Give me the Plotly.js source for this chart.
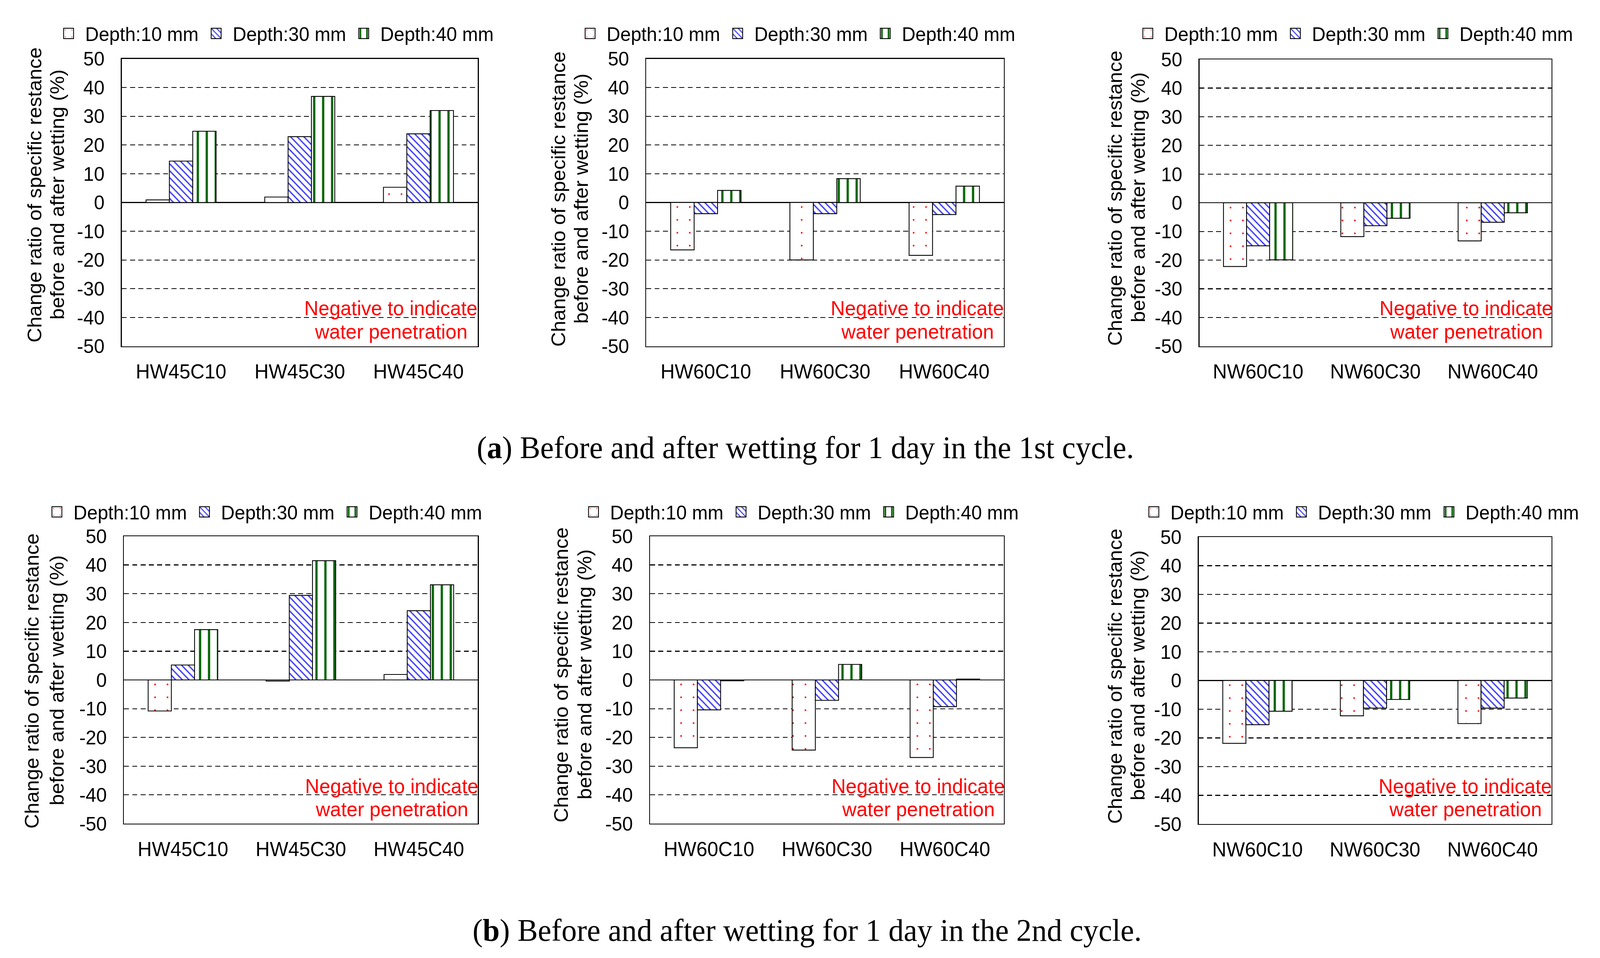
<!DOCTYPE html>
<html><head><meta charset="utf-8">
<script src="https://cdn.plot.ly/plotly-3.0.1.min.js"></script>
<style>
html,body{margin:0;padding:0;overflow:hidden;background:#fff;}
#chart{width:1930px;height:1115px;transform-origin:0 0;position:absolute;left:0;top:0;}
</style></head><body><div id="chart"></div>
<script>
// ---------------- DATA ----------------
const seriesNames = ['Depth:10 mm', 'Depth:30 mm', 'Depth:40 mm'];
const catsHW45 = ['HW45C10', 'HW45C30', 'HW45C40'];
const catsHW60 = ['HW60C10', 'HW60C30', 'HW60C40'];
const catsNW60 = ['NW60C10', 'NW60C30', 'NW60C40'];

// (a) 1st cycle
const a_HW45_d10 = [0.9, 1.9, 5.3];
const a_HW45_d30 = [14.4, 22.9, 23.9];
const a_HW45_d40 = [24.8, 36.9, 32.0];
const a_HW60_d10 = [-16.5, -20.0, -18.4];
const a_HW60_d30 = [-3.9, -3.9, -4.2];
const a_HW60_d40 = [4.2, 8.3, 5.7];
const a_NW60_d10 = [-22.2, -11.8, -13.3];
const a_NW60_d30 = [-15.0, -8.0, -6.8];
const a_NW60_d40 = [-19.9, -5.4, -3.5];

// (b) 2nd cycle
const b_HW45_d10 = [-10.8, -0.4, 1.9];
const b_HW45_d30 = [5.2, 29.4, 24.1];
const b_HW45_d40 = [17.5, 41.5, 33.1];
const b_HW60_d10 = [-23.6, -24.4, -27.0];
const b_HW60_d30 = [-10.4, -7.1, -9.3];
const b_HW60_d40 = [-0.3, 5.4, 0.3];
const b_NW60_d10 = [-21.9, -12.3, -15.0];
const b_NW60_d30 = [-15.4, -9.6, -9.6];
const b_NW60_d40 = [-10.7, -6.6, -6.1];

const yTickVals = [50, 40, 30, 20, 10, 0, -10, -20, -30, -40, -50];
const yTickText = ['50', '40', '30', '20', '10', '0', '-10', '-20', '-30', '-40', '-50'];

const yTitleLine1 = 'Change ratio of specific restance';
const yTitleLine2 = 'before and after wetting (%)';
const noteLine1 = 'Negative to indicate';
const noteLine2 = 'water penetration';
const captionA = '(<b>a</b>) Before and after wetting for 1 day in the 1st cycle.';
const captionB = '(<b>b</b>) Before and after wetting for 1 day in the 2nd cycle.';

// ---------------- LAYOUT HELPERS (reference pixel coords -> paper) ----------------
const W = 1930, H = 1115, RW = 4246, RH = 2453;
const fx = o => o / RW;
const fy = o => 1 - o / RH;

const SANS = 'Liberation Sans, Arial, sans-serif';
const SERIF = 'Liberation Serif, Times New Roman, serif';

const patterns = [
  {shape: '.', bgcolor: '#ffffff', fgcolor: '#ff0000', size: 15, solidity: 0.014, fillmode: 'replace'},
  {shape: '\\', bgcolor: '#ffffff', fgcolor: '#3c3cff', size: 5.7, solidity: 0.27, fillmode: 'replace'},
  {shape: '|', bgcolor: '#ffffff', fgcolor: '#006400', size: 10.8, solidity: 0.25, fillmode: 'replace'}
];

const panels = [
  {cats: catsHW45, vals: [a_HW45_d10, a_HW45_d30, a_HW45_d40], x: [323, 1268], y: [150.5, 886.5], leg: [176, 86], t1: [92, 499], t2: [152, 499]},
  {cats: catsHW60, vals: [a_HW60_d10, a_HW60_d30, a_HW60_d40], x: [1715, 2664], y: [150.5, 886.5], leg: [1560, 86], t1: [1483, 509], t2: [1543, 509]},
  {cats: catsNW60, vals: [a_NW60_d10, a_NW60_d30, a_NW60_d40], x: [3183, 4117], y: [152, 886.5], leg: [3040, 86], t1: [2960, 506], t2: [3021, 506]},
  {cats: catsHW45, vals: [b_HW45_d10, b_HW45_d30, b_HW45_d40], x: [329, 1268], y: [1373, 2109], leg: [145, 1311], t1: [86, 1743], t2: [152, 1743]},
  {cats: catsHW60, vals: [b_HW60_d10, b_HW60_d30, b_HW60_d40], x: [1725, 2664], y: [1373, 2109], leg: [1569, 1311], t1: [1490, 1727], t2: [1552, 1727]},
  {cats: catsNW60, vals: [b_NW60_d10, b_NW60_d30, b_NW60_d40], x: [3181, 4117], y: [1375, 2110], leg: [3056, 1311], t1: [2960, 1730], t2: [3021, 1730]}
];

const traces = [];
const layout = {
  width: W, height: H,
  margin: {l: 0, r: 0, t: 0, b: 0},
  paper_bgcolor: '#ffffff', plot_bgcolor: '#ffffff',
  barmode: 'group', bargap: 0.41, bargroupgap: 0,
  font: {family: SANS, color: '#000000', size: 23},
  annotations: []
};

panels.forEach((p, i) => {
  const n = i + 1;
  const sfx = n === 1 ? '' : String(n);
  const xa = 'x' + sfx, ya = 'y' + sfx;
  const legName = 'legend' + sfx;
  p.vals.forEach((v, s) => {
    traces.push({
      type: 'bar', x: p.cats, y: v, name: seriesNames[s],
      xaxis: xa, yaxis: ya, legend: legName, showlegend: true,
      marker: {color: '#ffffff', pattern: patterns[s], line: {color: '#000000', width: 1}},
      hoverinfo: 'skip'
    });
  });
  layout['xaxis' + sfx] = {
    domain: [fx(p.x[0]), fx(p.x[1])], anchor: ya,
    type: 'category', showgrid: false, zeroline: false,
    showline: true, mirror: true, linecolor: '#000000', linewidth: 1.1,
    ticks: '', tickfont: {family: SANS, size: 23.7, color: '#000'},
    ticklabelstandoff: 8, fixedrange: true, automargin: false
  };
  layout['yaxis' + sfx] = {
    domain: [fy(p.y[1]), fy(p.y[0])], anchor: xa,
    range: [-50, 50], tickvals: yTickVals, ticktext: yTickText,
    showgrid: true, gridcolor: '#000000', gridwidth: 1, griddash: '6px,4px',
    zeroline: true, zerolinecolor: '#000000', zerolinewidth: 1.1,
    showline: true, mirror: true, linecolor: '#000000', linewidth: 1.1,
    ticks: '', tickfont: {family: SANS, size: 23, color: '#000'},
    ticklabelstandoff: 15, fixedrange: true, automargin: false
  };
  layout[legName] = {
    orientation: 'h', x: fx(p.leg[0] - 38), y: fy(p.leg[1]), xanchor: 'left', yanchor: 'middle',
    xref: 'paper', yref: 'paper', bgcolor: 'rgba(0,0,0,0)', borderwidth: 0,
    font: {family: SANS, size: 22.8, color: '#000'},
    entrywidth: 133, entrywidthmode: 'pixels', traceorder: 'normal'
  };
  [[yTitleLine1, p.t1], [yTitleLine2, p.t2]].forEach(([txt, pos]) => {
    layout.annotations.push({
      xref: 'paper', yref: 'paper', x: fx(pos[0]), y: fy(pos[1]),
      xanchor: 'center', yanchor: 'middle', textangle: -90, showarrow: false,
      text: txt, font: {family: SANS, size: 23.6, color: '#000'}
    });
  });
  layout.annotations.push({
    xref: xa + ' domain', yref: ya, x: 0.757, y: -36.75, xanchor: 'center', yanchor: 'middle',
    showarrow: false, text: noteLine1, font: {family: SANS, size: 23.8, color: '#ff0000'}
  });
  layout.annotations.push({
    xref: xa + ' domain', yref: ya, x: 0.757, y: -44.77, xanchor: 'center', yanchor: 'middle',
    showarrow: false, text: noteLine2, font: {family: SANS, size: 23.8, color: '#ff0000'}
  });
});

layout.annotations.push({
  xref: 'paper', yref: 'paper', x: fx(2138), y: fy(1144), xanchor: 'center', yanchor: 'middle',
  showarrow: false, text: captionA, font: {family: SERIF, size: 36.8, color: '#000'}
});
layout.annotations.push({
  xref: 'paper', yref: 'paper', x: fx(2141), y: fy(2382), xanchor: 'center', yanchor: 'middle',
  showarrow: false, text: captionB, font: {family: SERIF, size: 36.8, color: '#000'}
});

// scale the fixed-size figure to fill the actual viewport
const vw = document.documentElement.clientWidth || window.innerWidth;
const vh = document.documentElement.clientHeight || window.innerHeight;
document.getElementById('chart').style.transform = 'scale(' + (vw / W) + ',' + (vh / H) + ')';

Plotly.newPlot('chart', traces, layout, {staticPlot: true, displayModeBar: false, responsive: false});
</script></body></html>
